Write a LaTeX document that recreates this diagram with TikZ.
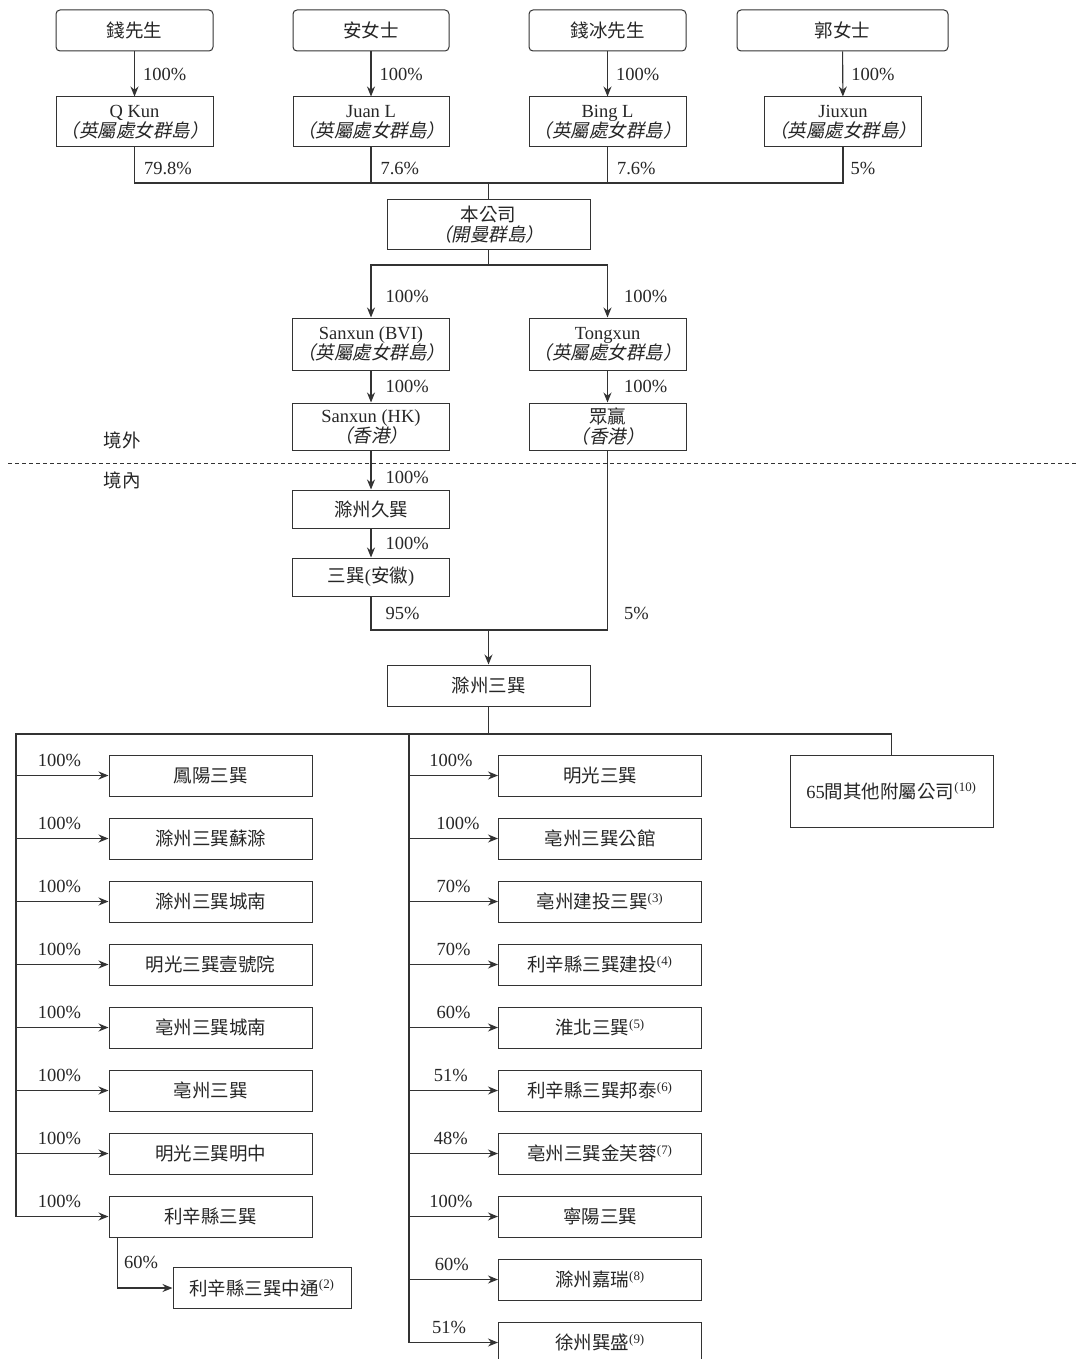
\documentclass[tikz,border=0pt]{standalone}
\usepackage{fontspec}
\setmainfont{Liberation Serif}
\newfontfamily\cjk{Noto Sans CJK TC}
\newfontfamily\cjkit{Noto Sans CJK TC}[FakeSlant=0.2]
\usetikzlibrary{arrows.meta, positioning, calc}

\begin{document}
\begin{tikzpicture}[
    x=1pt, y=-1pt,
    node distance=63pt,
    font=\fontsize{18.5}{20}\selectfont,
    every node/.style={text=black!85},
    holder/.style={rectangle, rounded corners=4pt, draw=black!80, line width=1pt, minimum width=157pt, minimum height=41pt, inner sep=2pt, align=center},
    entity/.style={rectangle, draw=black!80, line width=1pt, minimum width=157pt, minimum height=50pt, inner sep=2pt, align=center},
    subco/.style={rectangle, draw=black!80, line width=1pt, minimum width=203pt, minimum height=41pt, inner sep=2pt, align=center},
    link/.style={draw=black!80, line width=1.1pt},
    arrow/.style={link, -{Stealth[length=10pt, width=8pt]}},
    pct/.style={inner sep=2pt}
]
\useasboundingbox (0,0) rectangle (1077,1359);

% Shareholders
\node[holder] (qian) at (134.5,30.5) {\cjk 錢先生};
\node[holder, minimum width=156pt] (an) at (371,30.5) {\cjk 安女士};
\node[holder] (qianbing) at (607.5,30.5) {\cjk 錢冰先生};
\node[holder, minimum width=211pt] (guo) at (842.5,30.5) {\cjk 郭女士};

% BVI holding companies
\node[entity] (qkun) at (134.5,122) {Q Kun\\{\cjkit （英屬處女群島）}};
\node[entity, minimum width=156pt] (juanl) at (371,122) {Juan L\\{\cjkit （英屬處女群島）}};
\node[entity] (bingl) at (607.5,122) {Bing L\\{\cjkit （英屬處女群島）}};
\node[entity] (jiuxun) at (843,122) {Jiuxun\\{\cjkit （英屬處女群島）}};

% Company and offshore group
\node[entity, minimum width=203pt, minimum height=49pt] (company) at (488.5,224.5) {{\cjk 本公司}\\{\cjkit （開曼群島）}};
\node[entity, minimum height=52pt] (sanbvi) at (371,344) {Sanxun (BVI)\\{\cjkit （英屬處女群島）}};
\node[entity, minimum height=52pt] (tongxun) at (607.5,344) {Tongxun\\{\cjkit （英屬處女群島）}};
\node[entity, minimum height=47pt] (sanhk) at (371,426.5) {Sanxun (HK)\\{\cjkit （香港）}};
\node[entity, minimum height=47pt] (zhongying) at (607.5,426.5) {{\cjk 眾贏}\\{\cjkit （香港）}};

% Offshore / onshore
\node (offshore) at (122,440) {\cjk 境外};
\node (onshore) at (122,480) {\cjk 境內};
\draw[link, line width=0.8pt, dash pattern=on 4pt off 3pt] (8,463) -- (1077,463);

% Onshore group
\node[entity, minimum height=38pt] (chuzhoujx) at (371,509) {\cjk 滁州久巽};
\node[entity, minimum height=38pt] (anhui) at (371,577) {{\cjk 三巽}({\cjk 安徽})};
\node[subco] (chuzhou) at (488.5,685.5) {\cjk 滁州三巽};
\node[subco, minimum height=72pt] (others) at (891.5,791) {65{\cjk 間其他附屬公司}\textsuperscript{(10)}};

% Left column
\node[subco] (fengyang) at (210.5,775.5) {\cjk 鳳陽三巽};
\node[subco, below of=fengyang] (suchu) {\cjk 滁州三巽蘇滁};
\node[subco, below of=suchu] (chengnan) {\cjk 滁州三巽城南};
\node[subco, below of=chengnan] (yihao) {\cjk 明光三巽壹號院};
\node[subco, below of=yihao] (bzchengnan) {\cjk 亳州三巽城南};
\node[subco, below of=bzchengnan] (bozhou) {\cjk 亳州三巽};
\node[subco, below of=bozhou] (mingzhong) {\cjk 明光三巽明中};
\node[subco, below of=mingzhong] (lixin) {\cjk 利辛縣三巽};
\node[subco, minimum width=178pt] (zhongtong) at (262,1288) {{\cjk 利辛縣三巽中通}\textsuperscript{(2)}};

% Right column
\node[subco] (mingguang) at (600,775.5) {\cjk 明光三巽};
\node[subco, below of=mingguang] (gongguan) {\cjk 亳州三巽公館};
\node[subco, below of=gongguan] (jiantou) {{\cjk 亳州建投三巽}\textsuperscript{(3)}};
\node[subco, below of=jiantou] (lxjiantou) {{\cjk 利辛縣三巽建投}\textsuperscript{(4)}};
\node[subco, below of=lxjiantou] (huaibei) {{\cjk 淮北三巽}\textsuperscript{(5)}};
\node[subco, below of=huaibei] (bangtai) {{\cjk 利辛縣三巽邦泰}\textsuperscript{(6)}};
\node[subco, below of=bangtai] (furong) {{\cjk 亳州三巽金芙蓉}\textsuperscript{(7)}};
\node[subco, below of=furong] (ningyang) {\cjk 寧陽三巽};
\node[subco, below of=ningyang] (jiarui) {{\cjk 滁州嘉瑞}\textsuperscript{(8)}};
\node[subco, below of=jiarui] (xuzhou) {{\cjk 徐州巽盛}\textsuperscript{(9)}};

% Shareholders to BVI companies
\draw[arrow] (qian) -- node[pct, right=6pt] {100\%} (qkun);
\draw[arrow] (an) -- node[pct, right=6pt] {100\%} (juanl);
\draw[arrow] (qianbing) -- node[pct, right=6pt] {100\%} (bingl);
\draw[arrow] (guo) -- node[pct, right=6pt] {100\%} (jiuxun);

% BVI companies to the Company
\coordinate (join) at (488.5,183);
\draw[link] (qkun.south) |- node[pct, pos=0.3, right=7pt] {79.8\%} (jiuxun.south |- join)
    -- node[pct, pos=0.4, right=5pt] {5\%} (jiuxun.south);
\draw[link] (juanl) -- node[pct, pos=0.6, right=7pt] {7.6\%} (juanl |- join);
\draw[link] (bingl) -- node[pct, pos=0.6, right=7pt] {7.6\%} (bingl |- join);
\draw[link] (join) -- (company);

% Company downwards
\coordinate (split) at (488.5,265);
\draw[link] (company) -- (split);
\draw[arrow] (split) -| node[pct, pos=0.8, right=12pt] {100\%} (sanbvi);
\draw[arrow] (split) -| node[pct, pos=0.8, right=14pt] {100\%} (tongxun);
\draw[arrow] (sanbvi) -- node[pct, right=12pt] {100\%} (sanhk);
\draw[arrow] (tongxun) -- node[pct, right=14pt] {100\%} (zhongying);
\draw[arrow] (sanhk) -- node[pct, pos=0.7, right=12pt] {100\%} (chuzhoujx);
\draw[arrow] (chuzhoujx) -- node[pct, right=12pt] {100\%} (anhui);

\coordinate (merge) at (488.5,630);
\draw[link] (anhui) |- node[pct, pos=0.25, right=12pt] {95\%} (merge);
\draw[link] (zhongying) |- node[pct, pos=0.455, right=14pt] {5\%} (merge);
\draw[arrow] (merge) -- (chuzhou);

% Subsidiaries
\coordinate (dist) at (488.5,734);
\coordinate (lbus) at (16,734);
\coordinate (rbus) at (409,734);
\draw[link] (chuzhou) -- (dist);
\draw[link] (others.north) |- (lbus) -- (lbus |- lixin);
\draw[link] (rbus) -- (rbus |- xuzhou);

\draw[arrow] (lbus |- fengyang) -- node[pct, pos=0.47, above=6pt] {100\%} (fengyang);
\draw[arrow] (lbus |- suchu) -- node[pct, pos=0.47, above=6pt] {100\%} (suchu);
\draw[arrow] (lbus |- chengnan) -- node[pct, pos=0.47, above=6pt] {100\%} (chengnan);
\draw[arrow] (lbus |- yihao) -- node[pct, pos=0.47, above=6pt] {100\%} (yihao);
\draw[arrow] (lbus |- bzchengnan) -- node[pct, pos=0.47, above=6pt] {100\%} (bzchengnan);
\draw[arrow] (lbus |- bozhou) -- node[pct, pos=0.47, above=6pt] {100\%} (bozhou);
\draw[arrow] (lbus |- mingzhong) -- node[pct, pos=0.47, above=6pt] {100\%} (mingzhong);
\draw[arrow] (lbus |- lixin) -- node[pct, pos=0.47, above=6pt] {100\%} (lixin);
\draw[arrow] ([xshift=9pt]lixin.south west) |- node[pct, pos=0.25, right=4pt] {60\%} (zhongtong);

\draw[arrow] (rbus |- mingguang) -- node[pct, pos=0.47, above=6pt] {100\%} (mingguang);
\draw[arrow] (rbus |- gongguan) -- node[pct, pos=0.55, above=6pt] {100\%} (gongguan);
\draw[arrow] (rbus |- jiantou) -- node[pct, pos=0.5, above=6pt] {70\%} (jiantou);
\draw[arrow] (rbus |- lxjiantou) -- node[pct, pos=0.5, above=6pt] {70\%} (lxjiantou);
\draw[arrow] (rbus |- huaibei) -- node[pct, pos=0.5, above=6pt] {60\%} (huaibei);
\draw[arrow] (rbus |- bangtai) -- node[pct, pos=0.47, above=6pt] {51\%} (bangtai);
\draw[arrow] (rbus |- furong) -- node[pct, pos=0.47, above=6pt] {48\%} (furong);
\draw[arrow] (rbus |- ningyang) -- node[pct, pos=0.47, above=6pt] {100\%} (ningyang);
\draw[arrow] (rbus |- jiarui) -- node[pct, pos=0.48, above=6pt] {60\%} (jiarui);
\draw[arrow] (rbus |- xuzhou) -- node[pct, pos=0.45, above=6pt] {51\%} (xuzhou);

\end{tikzpicture}
\end{document}
